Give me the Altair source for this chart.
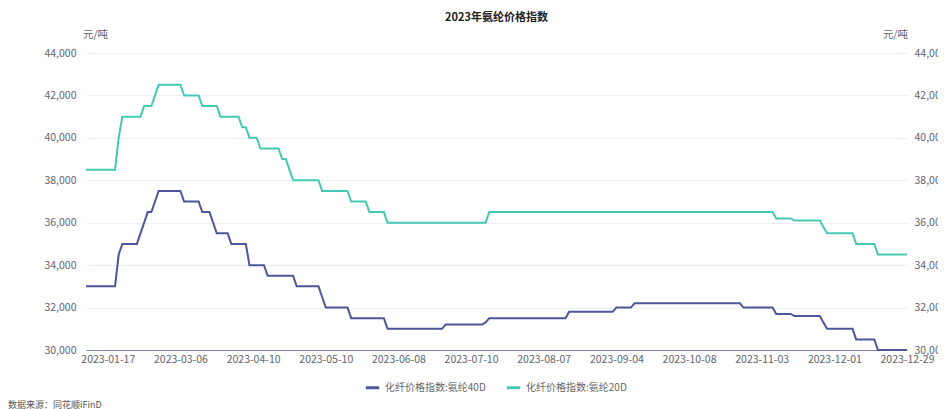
import altair as alt
import pandas as pd

TITLE = "2023年氨纶价格指数"
UNIT = "元/吨"
SOURCE = "数据来源：同花顺iFinD"
SERIES_40D = "化纤价格指数:氨纶40D"
SERIES_20D = "化纤价格指数:氨纶20D"

# x positions are the category (publishing day) index along the axis
LABEL_IDX = [6, 26, 46, 66, 86, 106, 126, 146, 166, 186, 206, 226]
LABELS = ["2023-01-17", "2023-03-06", "2023-04-10", "2023-05-10", "2023-06-08",
          "2023-07-10", "2023-08-07", "2023-09-04", "2023-10-08", "2023-11-03",
          "2023-12-01", "2023-12-29"]

# breakpoints of the 40D series (day index, price)
IDX_40D = [0, 8, 9, 10, 14, 15, 16, 17, 18, 19, 20, 26, 27, 31, 32, 34, 35, 36, 39,
           40, 44, 45, 49, 50, 57, 58, 64, 65, 66, 72, 73, 82, 83, 98, 99, 109, 110,
           111, 132, 133, 145, 146, 150, 151, 180, 181, 189, 190, 194, 195, 202, 203,
           204, 211, 212, 217, 218, 226]
VAL_40D = [33000, 33000, 34500, 35000, 35000, 35500, 36000, 36500, 36500, 37000, 37500,
           37500, 37000, 37000, 36500, 36500, 36000, 35500, 35500, 35000, 35000, 34000,
           34000, 33500, 33500, 33000, 33000, 32500, 32000, 32000, 31500, 31500, 31000,
           31000, 31200, 31200, 31300, 31500, 31500, 31800, 31800, 32000, 32000, 32200,
           32200, 32000, 32000, 31700, 31700, 31600, 31600, 31300, 31000, 31000, 30500,
           30500, 30000, 30000]

# breakpoints of the 20D series (day index, price)
IDX_20D = [0, 8, 9, 10, 15, 16, 18, 19, 20, 26, 27, 31, 32, 36, 37, 42, 43, 44, 45, 47,
           48, 53, 54, 55, 56, 57, 64, 65, 72, 73, 77, 78, 82, 83, 110, 111, 189, 190,
           194, 195, 202, 203, 204, 211, 212, 217, 218, 226]
VAL_20D = [38500, 38500, 40000, 41000, 41000, 41500, 41500, 42000, 42500, 42500, 42000,
           42000, 41500, 41500, 41000, 41000, 40500, 40500, 40000, 40000, 39500, 39500,
           39000, 39000, 38500, 38000, 38000, 37500, 37500, 37000, 37000, 36500, 36500,
           36000, 36000, 36500, 36500, 36200, 36200, 36100, 36100, 35800, 35500, 35500,
           35000, 35000, 34500, 34500]

Y_TICKS = [30000, 32000, 34000, 36000, 38000, 40000, 42000, 44000]

NAVY = "#4c5699"
TEAL = "#45c9b5"
FONT = "Noto Sans CJK SC"
LABEL_COLOR = "#60636e"

df = pd.concat([
    pd.DataFrame({"idx": IDX_40D, "value": VAL_40D, "series": SERIES_40D}),
    pd.DataFrame({"idx": IDX_20D, "value": VAL_20D, "series": SERIES_20D}),
], ignore_index=True)

label_parts = " : ".join(
    "datum.value == %d ? '%s'" % (i, s) for i, s in zip(LABEL_IDX, LABELS)
)
label_expr = label_parts + " : ''"

xscale = alt.Scale(domain=[0, 226], nice=False, zero=False)
yscale = alt.Scale(domain=[30000, 44000], nice=False, zero=False)

x_axis = alt.Axis(values=LABEL_IDX, labelExpr=label_expr, title=None, grid=False,
                  ticks=False, domainColor="#7a83a8", labelColor=LABEL_COLOR,
                  labelFontSize=10.5, labelPadding=4, labelFont=FONT, labelFlush=False,
                  labelOverlap=False)

y_common = dict(values=Y_TICKS, format=",.0f", title=None, domain=False, ticks=False,
                labelColor=LABEL_COLOR, labelFontSize=10.5, labelFont=FONT)

left = alt.Chart(df).mark_line(strokeWidth=2).encode(
    x=alt.X("idx:Q", scale=xscale, axis=x_axis),
    y=alt.Y("value:Q", scale=yscale,
            axis=alt.Axis(orient="left", grid=True, gridColor="#eceef5",
                          labelPadding=10, **y_common)),
    color=alt.Color("series:N",
                    scale=alt.Scale(domain=[SERIES_40D, SERIES_20D], range=[NAVY, TEAL]),
                    legend=alt.Legend(orient="none", legendX=278, legendY=326,
                                      direction="horizontal", columns=2, title=None,
                                      symbolType="stroke", symbolSize=180,
                                      symbolStrokeWidth=3, labelFontSize=10,
                                      labelColor="#666666", labelFont=FONT,
                                      columnPadding=14, labelOffset=4)),
)

right = alt.Chart(df).mark_line(strokeWidth=2, opacity=0).encode(
    x=alt.X("idx:Q", scale=xscale, axis=x_axis),
    y=alt.Y("value:Q", scale=yscale,
            axis=alt.Axis(orient="right", grid=False, labelPadding=7, **y_common)),
    detail="series:N",
)

def text_layer(txt, x, y, align, size, color, weight="normal"):
    return alt.Chart(pd.DataFrame({"t": [txt]})).mark_text(
        align=align, baseline="middle", fontSize=size, color=color,
        font=FONT, fontWeight=weight,
    ).encode(text="t:N", x=alt.value(x), y=alt.value(y))

title = text_layer(TITLE, 410.5, -35, "center", 11, "#222222", "bold")
unit_l = text_layer(UNIT, -3, -18, "left", 10.5, LABEL_COLOR)
unit_r = text_layer(UNIT, 822, -18, "right", 10.5, LABEL_COLOR)
source = text_layer(SOURCE, -78, 352, "left", 9, "#555555")

chart = alt.layer(left, right, title, unit_l, unit_r, source).resolve_scale(
    y="independent"
).properties(
    width=821, height=297,
    autosize=alt.AutoSizeParams(type="none"),
    padding={"left": 78, "top": 45, "right": 31, "bottom": 62},
).configure_view(stroke=None)

chart.save("out.html", embed_options={"renderer": "svg", "actions": False})
